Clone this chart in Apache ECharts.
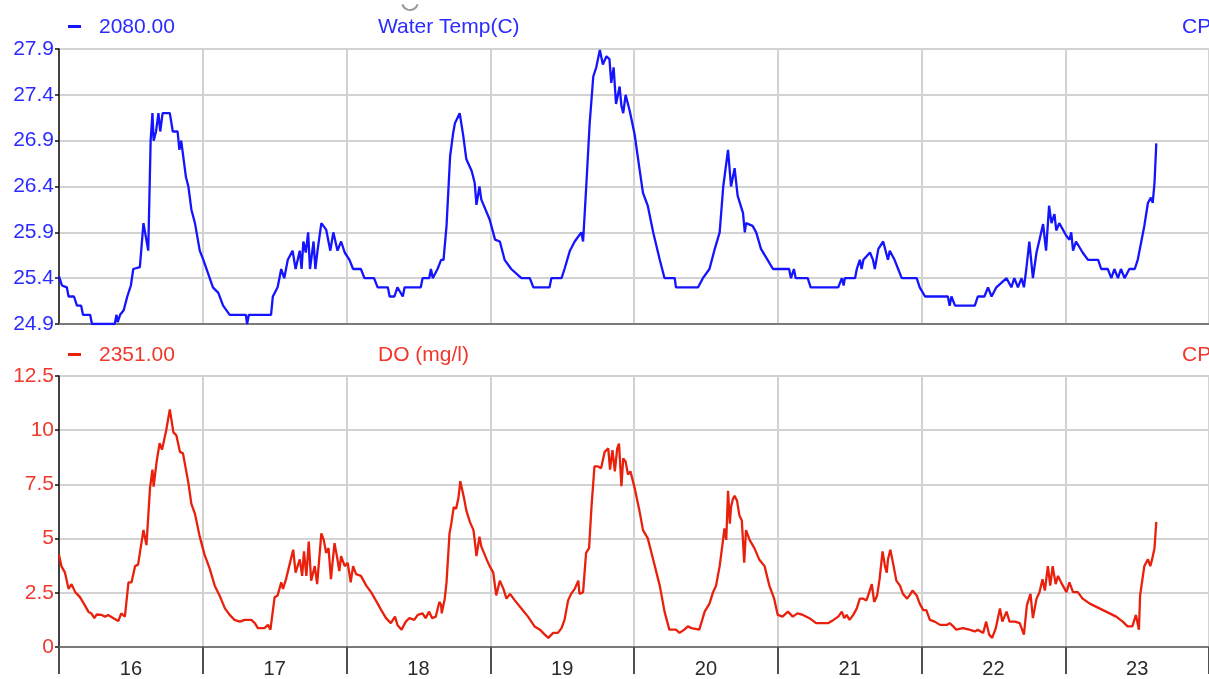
<!DOCTYPE html>
<html>
<head>
<meta charset="utf-8">
<script src="https://cdn.jsdelivr.net/npm/echarts@6/dist/echarts.min.js"></script>
<style>
html,body{margin:0;padding:0;background:#fff;}
#chart{width:1209px;height:679px;}
</style>
</head>
<body>
<div id="chart"></div>
<script>
// ---- data (hours since 16th 00:00) ----
var dayLabels = ['16','17','18','19','20','21','22','23'];
var tempTicks = ['24.9','25.4','25.9','26.4','26.9','27.4','27.9'];
var doTicks = ['0','2.5','5','7.5','10','12.5'];
var tempSeriesName = 'Water Temp(C)';
var doSeriesName = 'DO (mg/l)';
var tempLegendValue = '2080.00';
var doLegendValue = '2351.00';

var tempTime = [0,0.5,1.3,1.6,2.5,3.0,3.7,4.0,5.2,5.5,9.3,9.6,9.8,10.2,10.8,11.4,12.0,12.4,13.5,14.1,14.5,14.9,15.3,15.6,15.8,16.2,16.6,16.9,17.3,18.5,19.0,19.8,20.1,20.4,21.2,21.6,22.1,22.7,23.5,24.1,24.9,25.7,26.6,27.4,28.5,31.2,31.4,31.7,35.4,35.7,36.5,37.1,37.6,38.2,39.0,39.5,40.2,40.5,40.8,41.2,41.6,41.9,42.5,42.8,43.2,43.8,44.6,45.3,45.8,46.5,47.1,47.7,48.5,49.1,50.4,51.0,52.6,53.2,54.9,55.2,56.0,56.5,57.4,57.7,60.4,60.7,61.8,62.1,62.4,63.2,63.8,64.2,64.7,65.3,65.8,66.1,66.9,67.5,68.0,68.9,69.4,69.7,70.2,70.5,71.9,72.8,73.6,74.4,75.5,77.2,78.6,79.2,81.9,82.2,83.9,84.4,85.3,86.1,87.2,87.5,88.0,88.6,89.2,89.7,90.3,90.8,91.4,91.9,92.2,92.6,93.0,93.6,93.9,94.2,94.6,95.3,96.1,96.9,97.5,98.3,99.2,100.3,101.1,102.8,103.0,106.7,107.5,108.6,109.4,110.3,110.9,111.7,112.2,112.8,113.3,114.2,114.5,114.7,115.8,116.4,117.2,118.3,119.2,121.9,122.2,122.7,123.0,125.0,125.5,130.1,130.7,131.0,131.2,132.9,133.2,133.7,134.0,134.3,135.4,135.9,136.2,136.8,137.6,138.4,138.7,139.5,140.1,140.7,143.2,143.7,144.6,148.4,148.7,149.0,149.6,152.9,153.4,154.5,155.1,155.7,156.5,158.2,159.0,159.5,160.1,160.7,161.1,161.5,162.0,162.6,163.2,163.7,164.3,164.8,165.3,165.7,166.2,166.5,167.0,168.2,168.7,169.0,169.3,169.8,170.9,171.8,173.5,174.0,175.1,175.7,176.2,176.8,177.3,177.9,178.7,179.6,180.1,180.7,181.2,181.8,182.3,182.6,182.9,183.2];
var tempVal = [25.42,25.32,25.3,25.2,25.2,25.1,25.1,25.0,25.0,24.9,24.9,25.0,24.92,25.0,25.05,25.2,25.32,25.5,25.52,26.0,25.85,25.7,26.9,27.2,26.9,27.0,27.2,27.0,27.2,27.2,27.0,27.0,26.8,26.9,26.5,26.4,26.15,26.0,25.7,25.6,25.45,25.3,25.24,25.1,25.0,25.0,24.9,25.0,25.0,25.2,25.3,25.5,25.4,25.6,25.7,25.5,25.7,25.5,25.8,25.68,25.9,25.5,25.8,25.5,25.72,26.0,25.93,25.7,25.9,25.7,25.8,25.68,25.6,25.5,25.5,25.4,25.4,25.3,25.3,25.2,25.2,25.3,25.2,25.3,25.3,25.4,25.4,25.5,25.4,25.5,25.6,25.6,25.97,26.73,26.98,27.09,27.2,26.95,26.7,26.57,26.44,26.2,26.4,26.26,26.04,25.82,25.8,25.6,25.5,25.4,25.4,25.3,25.3,25.4,25.4,25.5,25.7,25.8,25.9,25.8,26.37,27.09,27.6,27.7,27.89,27.73,27.82,27.79,27.53,27.7,27.3,27.49,27.28,27.2,27.4,27.22,26.97,26.6,26.33,26.19,25.9,25.6,25.4,25.4,25.3,25.3,25.4,25.5,25.7,25.9,26.4,26.8,26.4,26.6,26.3,26.11,25.9,26.0,25.97,25.9,25.72,25.6,25.5,25.5,25.4,25.5,25.4,25.4,25.3,25.3,25.4,25.32,25.4,25.4,25.5,25.6,25.5,25.6,25.68,25.6,25.5,25.72,25.8,25.6,25.7,25.6,25.5,25.4,25.4,25.3,25.2,25.2,25.1,25.2,25.1,25.1,25.2,25.2,25.3,25.2,25.3,25.4,25.3,25.4,25.3,25.4,25.3,25.5,25.8,25.4,25.68,25.82,25.99,25.7,26.19,26.0,26.1,25.92,26.0,25.86,25.82,25.9,25.7,25.8,25.68,25.6,25.6,25.5,25.5,25.4,25.5,25.4,25.5,25.4,25.5,25.5,25.6,25.8,25.97,26.22,26.28,26.22,26.44,26.87];

var doTime = [0,0.4,1.0,1.6,2.1,2.7,3.5,4.3,4.9,5.4,5.9,6.3,7.1,7.7,8.2,9.1,9.9,10.4,11.0,11.6,12.1,12.7,13.2,14.1,14.6,15.2,15.6,15.8,16.3,16.8,17.2,17.9,18.5,19.1,19.6,20.2,20.7,21.6,22.1,22.7,23.5,24.3,25.2,26.0,26.8,27.7,28.5,29.3,30.2,31.0,32.1,32.7,33.2,34.3,34.9,35.3,36.0,36.5,37.1,37.4,37.9,39.1,39.5,40.2,40.6,40.9,41.3,41.7,42.1,42.7,43.1,43.8,44.2,44.6,45.0,45.4,46.0,46.4,46.8,47.1,47.7,48.2,48.7,49.1,49.6,50.4,51.3,52.1,52.9,53.8,54.6,55.4,56.1,56.5,57.2,57.9,58.5,59.3,59.9,60.7,61.2,61.8,62.3,62.9,63.5,63.8,63.9,64.4,64.7,65.2,65.5,65.9,66.3,66.7,67.0,67.6,68.0,68.6,69.2,69.4,69.7,70.2,70.5,71.4,71.9,72.5,73.0,73.6,74.2,74.7,75.3,76.1,77.2,78.3,79.4,80.3,81.1,81.7,82.5,83.3,83.9,84.4,85.0,85.5,86.1,86.7,86.9,87.5,88.0,88.5,88.9,89.4,90.0,90.5,91.1,91.7,92.0,92.4,92.8,93.2,93.5,93.9,94.2,94.6,95.0,95.4,96.1,96.9,97.5,98.3,99.2,100.3,101.1,101.9,103.0,103.6,104.4,105.0,105.6,106.9,107.8,108.6,109.2,109.7,110.3,110.8,111.1,111.4,111.7,112.0,112.2,112.5,112.8,113.2,113.6,114.0,114.4,114.7,115.3,116.1,116.9,117.8,118.6,119.4,120.0,120.8,121.7,122.5,123.3,124.2,125.3,126.4,128.4,129.3,130.1,130.7,131.1,131.5,132.0,132.6,133.2,133.7,134.3,134.8,135.1,135.7,136.1,136.6,137.0,137.5,137.9,138.2,138.4,138.8,139.3,139.8,140.4,140.9,141.6,142.0,142.5,143.2,143.7,144.3,144.8,145.4,146.2,147.1,148.2,148.7,149.3,149.8,150.9,152.0,152.9,153.4,154.3,154.8,155.3,155.8,156.4,157.1,157.5,158.2,158.7,159.6,160.4,161.1,161.6,162.2,162.6,163.2,163.7,164.2,164.6,165.1,165.5,165.9,166.4,166.8,167.3,168.2,168.7,169.3,170.1,170.9,172.1,173.2,174.3,175.4,176.5,177.6,178.4,179.2,179.8,180.3,180.5,180.8,181.2,181.8,182.2,182.5,182.9,183.2];
var doVal = [4.26,3.73,3.43,2.68,2.9,2.53,2.3,1.93,1.63,1.55,1.33,1.5,1.48,1.4,1.48,1.33,1.2,1.55,1.4,2.98,2.98,3.73,3.8,5.4,4.7,7.35,8.18,7.4,8.55,9.4,9.1,10.0,10.96,9.9,9.76,9.0,8.93,7.57,6.6,6.14,5.09,4.26,3.58,2.83,2.38,1.78,1.48,1.25,1.17,1.25,1.25,1.1,0.87,0.87,1.02,0.8,2.3,2.38,2.98,2.68,3.13,4.49,3.43,4.04,3.28,4.41,3.28,4.86,3.06,3.73,2.9,5.24,4.94,4.34,4.56,3.13,4.79,4.19,3.5,4.19,3.73,3.88,2.98,3.73,3.36,3.28,2.83,2.53,2.15,1.7,1.33,1.1,1.4,1.02,0.8,1.17,1.33,1.25,1.48,1.55,1.33,1.63,1.33,1.4,2.08,1.93,1.55,2.23,2.98,5.24,5.69,6.45,6.38,6.9,7.65,6.9,6.3,5.77,5.39,4.94,4.19,5.09,4.64,4.04,3.73,3.43,2.38,3.06,2.68,2.23,2.45,2.15,1.78,1.4,0.95,0.8,0.57,0.42,0.65,0.65,0.87,1.25,2.15,2.45,2.68,3.06,2.45,2.53,4.34,4.56,6.45,8.33,8.33,8.25,9.0,9.16,8.18,9.08,8.1,9.16,9.38,7.42,8.7,8.55,7.95,8.1,7.35,6.3,5.39,5.01,4.04,2.83,1.63,0.8,0.8,0.65,0.8,0.95,0.87,0.8,1.63,2.0,2.53,2.83,3.73,4.79,5.47,4.94,7.2,5.69,6.45,6.82,6.97,6.75,6.07,5.84,3.89,5.39,4.94,4.56,4.04,3.73,2.83,2.23,1.48,1.4,1.63,1.4,1.55,1.48,1.33,1.1,1.1,1.25,1.4,1.63,1.33,1.48,1.25,1.48,1.78,2.23,2.23,2.15,2.38,2.9,2.08,2.38,3.13,4.41,3.73,3.43,4.04,4.49,3.8,3.06,2.83,2.45,2.23,2.38,2.6,2.38,2.0,1.7,1.7,1.25,1.17,1.02,1.02,1.1,0.95,0.8,0.87,0.8,0.72,0.8,0.65,1.17,0.57,0.42,0.87,1.78,1.17,1.63,1.17,1.17,1.1,0.57,1.93,2.45,1.33,2.23,2.53,3.13,2.6,3.73,2.83,3.73,2.9,3.28,2.98,2.53,2.98,2.53,2.53,2.23,2.0,1.85,1.7,1.55,1.4,1.17,0.95,0.95,1.48,0.8,2.38,2.3,3.73,4.04,3.73,4.04,4.56,5.77];

function pairs(t, v) { var out = []; for (var i = 0; i < t.length; i++) out.push([t[i], v[i]]); return out; }

var BLUE_LINE = '#1414ff', BLUE_TEXT = '#2b2bff';
var RED_LINE = '#e8200c', RED_TEXT = '#f0382c';
var GRID_C = '#d2d2d2';
var FONT = 'Liberation Sans, Arial, sans-serif';

var chart = echarts.init(document.getElementById('chart'), null, {renderer: 'canvas'});

function valueX(gi) {
  return {
    type: 'value', gridIndex: gi, min: 0, max: 192, interval: 24,
    axisLine: {show: true, onZero: false, lineStyle: {color: '#7a7a7a', width: 2}},
    axisTick: {show: false}, axisLabel: {show: false},
    splitLine: {show: true, lineStyle: {color: GRID_C, width: 2}}
  };
}

var option = {
  animation: false,
  backgroundColor: '#ffffff',
  textStyle: {fontFamily: FONT},
  grid: [
    {left: 59, top: 49, width: 1150, height: 275, show: true, borderColor: '#a3a3a3', borderWidth: 2},
    {left: 59, top: 376, width: 1150, height: 276, show: true, borderColor: '#a3a3a3', borderWidth: 2}
  ],
  xAxis: [
    valueX(0),
    valueX(1),
    {
      type: 'category', gridIndex: 1, position: 'bottom', data: dayLabels, boundaryGap: true,
      axisLine: {show: false},
      axisTick: {show: true, length: 27, lineStyle: {color: '#505050', width: 2}},
      axisLabel: {show: true, fontSize: 20, color: '#2a2a2a', margin: 12, fontFamily: FONT},
      splitLine: {show: false}
    }
  ],
  yAxis: [
    {
      type: 'value', gridIndex: 0, min: 24.9, max: 27.9, interval: 0.5,
      axisLine: {show: true, lineStyle: {color: '#111', width: 1.5}},
      axisTick: {show: true, length: 4, lineStyle: {color: '#111', width: 1.5}},
      axisLabel: {color: BLUE_TEXT, fontSize: 21, margin: 5, fontFamily: FONT, padding: [0, 0, 3, 0],
        formatter: function (v) { var s = v.toFixed(1); return tempTicks.indexOf(s) >= 0 ? s : ''; }},
      splitLine: {show: true, lineStyle: {color: GRID_C, width: 2}}
    },
    {
      type: 'value', gridIndex: 1, min: 0, max: 12.5, interval: 2.5,
      axisLine: {show: true, lineStyle: {color: '#111', width: 1.5}},
      axisTick: {show: true, length: 4, lineStyle: {color: '#111', width: 1.5}},
      axisLabel: {color: RED_TEXT, fontSize: 21, margin: 5, fontFamily: FONT, padding: [0, 0, 3, 0],
        formatter: function (v) { var s = String(Math.round(v * 10) / 10); return doTicks.indexOf(s) >= 0 ? s : ''; }},
      splitLine: {show: true, lineStyle: {color: GRID_C, width: 2}}
    }
  ],
  series: [
    {
      name: tempSeriesName, type: 'line', xAxisIndex: 0, yAxisIndex: 0,
      data: pairs(tempTime, tempVal), showSymbol: false, symbol: 'none',
      lineStyle: {color: BLUE_LINE, width: 2.3}, itemStyle: {color: BLUE_LINE}, z: 5
    },
    {
      name: doSeriesName, type: 'line', xAxisIndex: 1, yAxisIndex: 1,
      data: pairs(doTime, doVal), showSymbol: false, symbol: 'none',
      lineStyle: {color: RED_LINE, width: 2.3}, itemStyle: {color: RED_LINE}, z: 5
    }
  ],
  graphic: [
    {type: 'arc', shape: {cx: 410, cy: 2, r: 8, startAngle: 0.3, endAngle: Math.PI - 0.3}, style: {stroke: '#9a9a9a', lineWidth: 2, fill: null}},
    {type: 'rect', shape: {x: 68, y: 25, width: 13, height: 3}, style: {fill: BLUE_LINE}},
    {type: 'text', x: 99, y: 27, style: {text: tempLegendValue, fill: BLUE_TEXT, font: '21px ' + FONT, textVerticalAlign: 'middle'}},
    {type: 'text', x: 378, y: 27, style: {text: tempSeriesName, fill: BLUE_TEXT, font: '21px ' + FONT, textVerticalAlign: 'middle'}},
    {type: 'text', x: 1182, y: 27, style: {text: 'CP', fill: BLUE_TEXT, font: '21px ' + FONT, textVerticalAlign: 'middle'}},
    {type: 'rect', shape: {x: 68, y: 353, width: 13, height: 3}, style: {fill: RED_LINE}},
    {type: 'text', x: 99, y: 355, style: {text: doLegendValue, fill: RED_TEXT, font: '21px ' + FONT, textVerticalAlign: 'middle'}},
    {type: 'text', x: 378, y: 355, style: {text: doSeriesName, fill: RED_TEXT, font: '21px ' + FONT, textVerticalAlign: 'middle'}},
    {type: 'text', x: 1182, y: 355, style: {text: 'CP', fill: RED_TEXT, font: '21px ' + FONT, textVerticalAlign: 'middle'}}
  ]
};
chart.setOption(option);
</script>
</body>
</html>
